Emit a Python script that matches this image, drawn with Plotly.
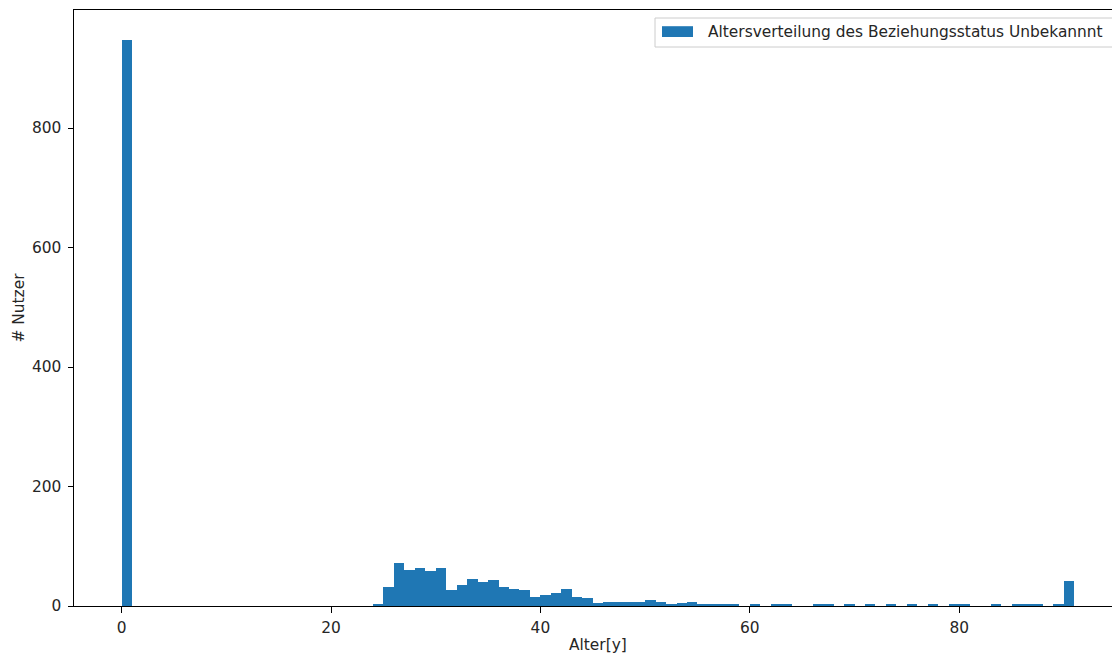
import numpy as np
import plotly.graph_objects as go

# Histogram of ages (bin width 1 year, bins from 0 to 91; last bin holds 90 and 91)
bin_edges = list(range(0, 92))
counts = [
    948, 0, 0, 0, 0, 0, 0, 0, 0, 0,      # 0-9
    0, 0, 0, 0, 0, 0, 0, 0, 0, 0,        # 10-19
    0, 0, 0, 0, 3, 31, 72, 61, 64, 59,   # 20-29
    63, 27, 35, 45, 40, 44, 32, 29, 27, 15,  # 30-39
    19, 22, 29, 15, 13, 5, 7, 7, 7, 6,   # 40-49
    10, 6, 4, 5, 6, 3, 3, 3, 2, 0,       # 50-59
    2, 0, 2, 2, 0, 0, 4, 2, 0, 2,        # 60-69
    0, 2, 0, 2, 0, 2, 0, 3, 0, 3,        # 70-79
    2, 0, 0, 2, 0, 2, 2, 2, 0, 4,        # 80-89
    42,                                  # 90-91
]
x_ticks = [0, 20, 40, 60, 80]
y_ticks = [0, 200, 400, 600, 800]
legend_label = "Altersverteilung des Beziehungsstatus Unbekannnt"
x_title = "Alter[y]"
y_title = "# Nutzer"

edges = np.array(bin_edges, dtype=float)
centers = (edges[:-1] + edges[1:]) / 2
widths = edges[1:] - edges[:-1]

BLUE = "#1f77b4"
FONT = "DejaVu Sans"
TXT = "#262626"
FS = 15.4

W, H = 1112, 654
ML, MT, MB, MR = 74, 10, 48, 0
plot_w = W - ML - MR
plot_h = H - MT - MB

x0 = -4.55
full_span = 100.1
px_per_unit = 1048 / full_span
x1 = x0 + plot_w / px_per_unit

fig = go.Figure()
fig.add_trace(go.Bar(
    x=centers, y=counts, width=widths,
    marker=dict(color=BLUE, line=dict(width=0)),
    name=legend_label, showlegend=False,
))

def px_to_paper_x(px):
    return (px - ML) / plot_w

def px_to_paper_y(py):
    return 1 - (py - MT) / plot_h

shapes = [
    # legend frame
    dict(type="rect", xref="paper", yref="paper",
         x0=px_to_paper_x(655), x1=px_to_paper_x(1120),
         y0=px_to_paper_y(47), y1=px_to_paper_y(18),
         line=dict(color="#cccccc", width=1), fillcolor="rgba(255,255,255,0.8)", layer="above"),
    # legend patch
    dict(type="rect", xref="paper", yref="paper",
         x0=px_to_paper_x(662), x1=px_to_paper_x(693),
         y0=px_to_paper_y(37), y1=px_to_paper_y(26.2),
         line=dict(width=0), fillcolor=BLUE, layer="above"),
]

annotations = [
    dict(text=legend_label, xref="paper", yref="paper",
         x=px_to_paper_x(705.5), y=px_to_paper_y(32), xanchor="left", yanchor="middle",
         showarrow=False, font=dict(family=FONT, size=FS, color=TXT)),
    dict(text=x_title, xref="x", yref="paper",
         x=x0 + full_span / 2, y=px_to_paper_y(645), xanchor="center", yanchor="middle",
         showarrow=False, font=dict(family=FONT, size=FS, color=TXT)),
]

fig.update_layout(
    width=W, height=H,
    margin=dict(l=ML, r=MR, t=MT, b=MB, pad=0),
    paper_bgcolor="white", plot_bgcolor="white",
    bargap=0,
    shapes=shapes, annotations=annotations,
    font=dict(family=FONT, size=FS, color=TXT),
    xaxis=dict(
        range=[x0, x1], tickmode="array", tickvals=x_ticks,
        ticks="outside", ticklen=5.4, tickwidth=1.2, tickcolor="black",
        showline=True, linecolor="black", linewidth=1.2, mirror=True,
        showgrid=False, zeroline=False,
        ticklabelstandoff=2,
        tickfont=dict(family=FONT, size=FS, color=TXT),
    ),
    yaxis=dict(
        range=[0, 997.5], tickmode="array", tickvals=y_ticks,
        ticks="outside", ticklen=5.4, tickwidth=1.2, tickcolor="black",
        showline=True, linecolor="black", linewidth=1.2,
        showgrid=False, zeroline=False,
        ticklabelstandoff=3,
        tickfont=dict(family=FONT, size=FS, color=TXT),
        title=dict(text=y_title, font=dict(family=FONT, size=FS, color=TXT), standoff=3),
    ),
)

fig.write_html("out.html")
